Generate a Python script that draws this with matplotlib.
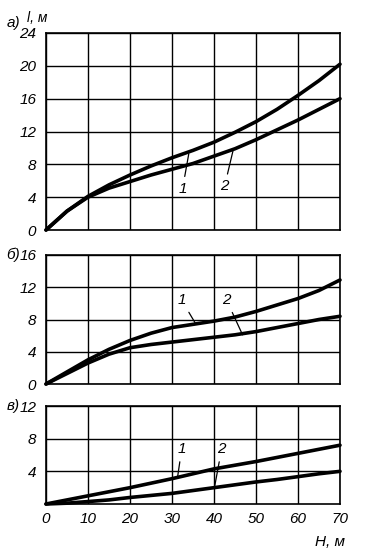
import numpy as np
import matplotlib
matplotlib.use("Agg")
import matplotlib.pyplot as plt

# depth H, m (common x for all three panels)
H = [0, 5, 10, 15, 20, 25, 30, 35, 40, 45, 50, 55, 60, 65, 70]

# panel a) length l, m
a_1 = [0, 2.3, 4.1, 5.5, 6.7, 7.8, 8.8, 9.7, 10.7, 11.9, 13.2, 14.7, 16.4, 18.2, 20.2]
a_2 = [0, 2.3, 4.0, 5.1, 5.9, 6.7, 7.4, 8.1, 9.0, 9.9, 11.0, 12.2, 13.4, 14.7, 16.0]
# panel б)
b_1 = [0, 1.5, 3.0, 4.3, 5.4, 6.3, 7.0, 7.4, 7.8, 8.3, 9.0, 9.8, 10.6, 11.6, 12.9]
b_2 = [0, 1.3, 2.6, 3.7, 4.5, 4.9, 5.2, 5.5, 5.8, 6.1, 6.5, 7.0, 7.5, 8.0, 8.4]
# panel в)
c_1 = [0, 0.5, 1.0, 1.5, 2.0, 2.55, 3.1, 3.7, 4.3, 4.75, 5.2, 5.7, 6.2, 6.7, 7.2]
c_2 = [0, 0.1, 0.3, 0.5, 0.8, 1.05, 1.3, 1.65, 2.0, 2.35, 2.7, 3.0, 3.35, 3.7, 4.0]

x_ticks = [0, 10, 20, 30, 40, 50, 60, 70]

plt.rcParams['font.family'] = ['Liberation Sans', 'DejaVu Sans']
plt.rcParams['font.style'] = 'italic'

fig = plt.figure(figsize=(3.65, 5.51), dpi=100)

W = 365.0
Hpx = 551.0
left = 46 / W
width = (340 - 46) / W

def box(top, bottom):
    return [left, 1 - bottom / Hpx, width, (bottom - top) / Hpx]

panels = [
    # (rect, ymax, yticks, series, letter, letter y px, labels [(text, xytext, xy)])
    (box(33, 230), 24, [0, 4, 8, 12, 16, 20, 24], (a_1, a_2), "а)", 23,
     [("1", (32.5, 5.0), (34.0, 9.3)), ("2", (42.5, 5.3), (44.5, 9.6))]),
    (box(255, 384), 16, [0, 4, 8, 12, 16], (b_1, b_2), "б)", 255,
     [("1", (32.3, 10.4), (35.6, 7.5)), ("2", (43.0, 10.4), (46.8, 6.1))]),
    (box(406, 504), 12, [4, 8, 12], (c_1, c_2), "в)", 406,
     [("1", (32.3, 6.7), (31.3, 3.2)), ("2", (41.8, 6.7), (40.1, 2.0))]),
]

for i, (rect, ymax, yt, series, letter, ly, labels) in enumerate(panels):
    ax = fig.add_axes(rect)
    ax.set_xlim(0, 70)
    ax.set_ylim(0, ymax)
    ax.set_xticks(x_ticks)
    ax.set_yticks(yt)
    ax.grid(True, color='black', linewidth=1.0)
    ax.set_axisbelow(True)
    for s in ax.spines.values():
        s.set_linewidth(1.2)
    ax.tick_params(length=0, pad=7, labelsize=11)
    if i < 2:
        ax.set_xticklabels([])
    else:
        ax.tick_params(axis='x', pad=6)
    for ys in series:
        ax.plot(H, ys, color='black', linewidth=2.6, solid_capstyle='round', clip_on=False)
    for txt, xt, xy in labels:
        ax.annotate(txt, xy=xy, xytext=xt, fontsize=11, ha='center', va='center',
                    arrowprops=dict(arrowstyle='-', color='black', lw=0.9, shrinkA=2, shrinkB=0))
    # panel letter left of the top tick label
    fig.text(20 / W, 1 - ly / Hpx, letter, fontsize=11, ha='right', va='center')

fig.text(37 / W, 1 - 18 / Hpx, "l, м", fontsize=10, ha='center', va='center')
fig.text(330 / W, 1 - 542 / Hpx, "H, м", fontsize=11, ha='center', va='center')

fig.savefig("out.png", dpi=100, facecolor='white')
